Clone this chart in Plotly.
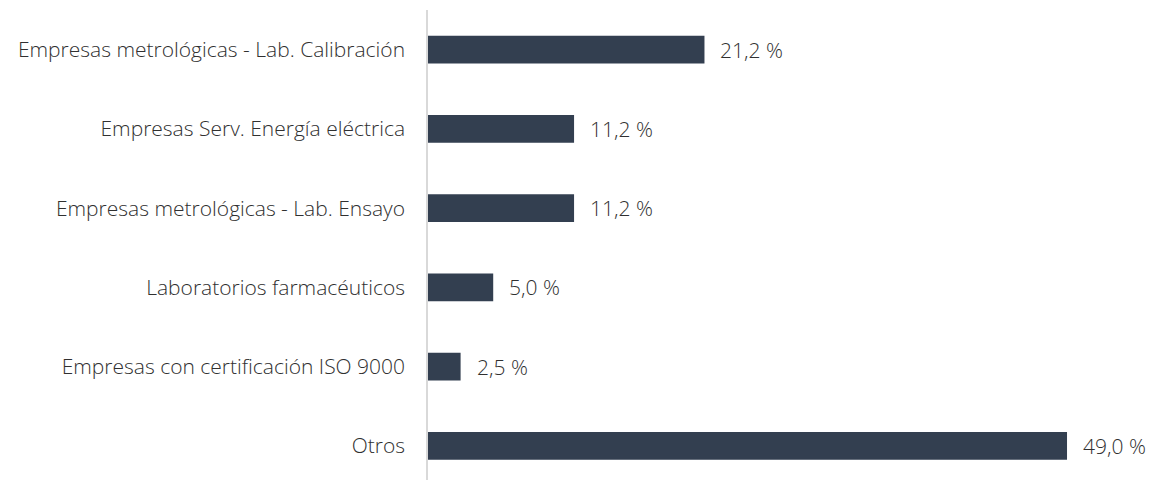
import plotly.graph_objects as go

categories = [
    "Empresas metrológicas - Lab. Calibración",
    "Empresas Serv. Energía eléctrica",
    "Empresas metrológicas - Lab. Ensayo",
    "Laboratorios farmacéuticos",
    "Empresas con certificación ISO 9000",
    "Otros",
]
values = [21.2, 11.2, 11.2, 5.0, 2.5, 49.0]
labels = [f"{v:.1f}".replace(".", ",") + " %" for v in values]

FONT = "Open Sans"
TXT = "#303030"
SIZE = 21

fig = go.Figure(go.Bar(
    x=values, y=categories, orientation="h",
    marker=dict(color="#333F50", line=dict(width=0)),
    width=0.35, hoverinfo="skip",
))

for c, v, t in zip(categories, values, labels):
    fig.add_annotation(x=v, y=c, text=t, showarrow=False, xanchor="left",
                       xshift=14, font=dict(family=FONT, size=SIZE, color=TXT, weight=300))

fig.update_layout(
    width=1149, height=472,
    margin=dict(l=420, r=0, t=2, b=0),
    plot_bgcolor="white", paper_bgcolor="white",
    showlegend=False,
    font=dict(family=FONT, size=SIZE, color=TXT, weight=300),
)
fig.update_xaxes(range=[0, 55.9], showgrid=False, zeroline=False, showticklabels=False, showline=False)
fig.update_yaxes(
    categoryorder="array", categoryarray=categories,
    range=[5.43, -0.5], showgrid=False, zeroline=False,
    showline=True, linecolor="#d9d9d9", linewidth=1.5,
    ticks="", ticklabelstandoff=17,
    tickfont=dict(family=FONT, size=SIZE, color=TXT, weight=300),
)

fig.write_html("out.html")
